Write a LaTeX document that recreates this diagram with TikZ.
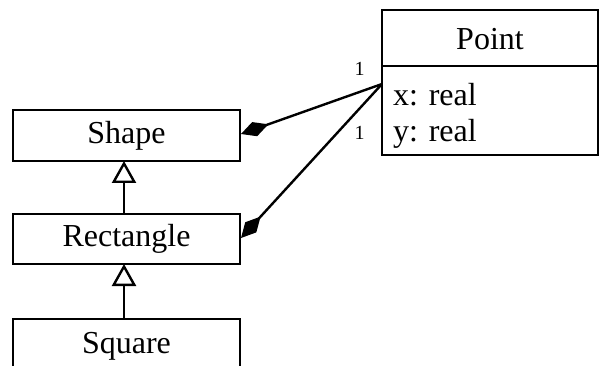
\documentclass[tikz,border=0pt]{standalone}
\usepackage{fontspec}
\setmainfont{Liberation Serif}
\usetikzlibrary{arrows.meta}
\begin{document}
\begin{tikzpicture}[x=1pt,y=-1pt,
  lbl/.style={font=\fontsize{32}{37}\selectfont},
  classbox/.style={draw, line width=2.4pt, minimum width=227pt, inner sep=0pt, lbl},
  compo/.style={line width=2.4pt, {Diamond[fill=black,length=29pt,width=15pt]}-},
  inherit/.style={line width=2.4pt, -{Triangle[open,fill=white,length=22pt,width=24pt]}},
  mult/.style={font=\fontsize{20}{24}\selectfont}]
  \useasboundingbox (0,0) rectangle (599,366);
  \clip (0,0) rectangle (599,366);

  % class hierarchy
  \node[classbox, minimum height=51pt] (shape) at (126.5,135.5) {Shape};
  \node[classbox, minimum height=50pt] (rect) at (126.5,239) {Rectangle};
  \node[classbox, minimum height=70pt, anchor=north] (square) at (126.5,318) {};
  \node[lbl] (squarelbl) at (126.5,346) {Square};

  % Point class with its attribute compartment
  \draw[line width=2.4pt] (382,10) rectangle (598,155);
  \draw[line width=2.4pt] (382,66) -- (598,66);
  \node[lbl] (ptname) at (490,39) {Point};
  \node[lbl, anchor=base west, inner sep=0pt] (ax) at (393,106) {x: real};
  \node[lbl, anchor=base west, inner sep=0pt] (ay) at (393,142) {y: real};
  \coordinate (pjoin) at (382,84);

  % generalisations
  \coordinate (shapebase) at (124,161);
  \coordinate (recttop) at (124,214);
  \coordinate (rectbase) at (124,264);
  \coordinate (squaretop) at (124,318);
  \draw[inherit] (recttop) -- (shapebase);
  \draw[inherit] (squaretop) -- (rectbase);

  % compositions to Point
  \coordinate (shapeend) at (241,134);
  \coordinate (rectend) at (241,238);
  \draw[compo] (shapeend) -- (pjoin);
  \draw[compo] (rectend) -- (pjoin);

  % multiplicities
  \node[mult] (m1) at (359.5,68.5) {1};
  \node[mult] (m2) at (359.5,132.5) {1};
\end{tikzpicture}
\end{document}
